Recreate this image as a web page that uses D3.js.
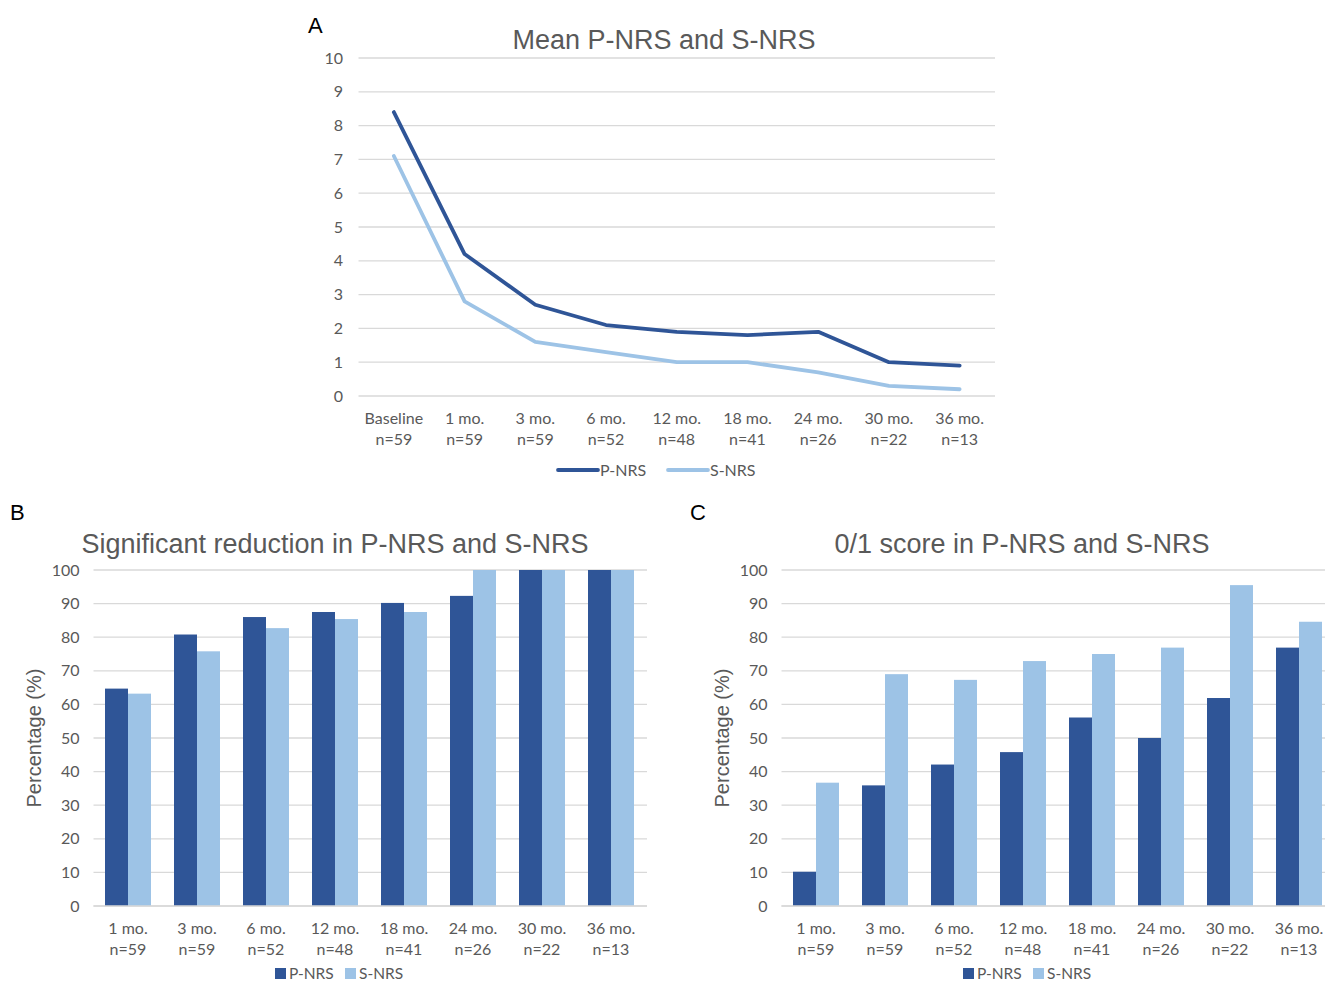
<!DOCTYPE html>
<html>
<head>
<meta charset="utf-8">
<script src="https://cdn.jsdelivr.net/npm/d3@7"></script>
<style>
  body { margin: 0; background: #fff; overflow: hidden; }
  text { font-family: Lato, "Open Sans", sans-serif; }
  .title { font-family: "Liberation Sans", Arial, sans-serif; }
</style>
</head>
<body>
<svg id="chart" width="1325" height="983"></svg>
<script>
// data
const lineCats = ['Baseline|n=59', '1 mo.|n=59', '3 mo.|n=59', '6 mo.|n=52', '12 mo.|n=48', '18 mo.|n=41', '24 mo.|n=26', '30 mo.|n=22', '36 mo.|n=13'];
const meanP = [8.4, 4.2, 2.7, 2.1, 1.9, 1.8, 1.9, 1.0, 0.9];
const meanS = [7.1, 2.8, 1.6, 1.3, 1.0, 1.0, 0.7, 0.3, 0.2];

const barCats = ['1 mo.|n=59', '3 mo.|n=59', '6 mo.|n=52', '12 mo.|n=48', '18 mo.|n=41', '24 mo.|n=26', '30 mo.|n=22', '36 mo.|n=13'];
const reductionP = [64.7, 80.8, 86.0, 87.5, 90.2, 92.3, 100, 100];
const reductionS = [63.2, 75.8, 82.7, 85.4, 87.5, 100, 100, 100];
const scoreP = [10.2, 35.9, 42.1, 45.8, 56.1, 50.0, 61.9, 76.9];
const scoreS = [36.7, 69.0, 67.3, 72.9, 75.0, 76.9, 95.5, 84.6];

const yTicksA = d3.range(0, 11, 1);
const yTicksPct = d3.range(0, 101, 10);

const dark = '#2F5597', light = '#9DC3E6';
const grid = '#D9D9D9', textCol = '#595959';
const tickSize = '16px';

const svg = d3.select('#chart');

// shared helpers
function gridAndYAxis(g, y, ticks, x0, x1, labelX) {
  g.append('g')
    .selectAll('line')
    .data(ticks)
    .enter()
    .append('line')
    .attr('x1', x0)
    .attr('x2', x1)
    .attr('y1', d => y(d))
    .attr('y2', d => y(d))
    .attr('stroke', grid)
    .attr('stroke-width', 1.3);
  g.append('g')
    .selectAll('text')
    .data(ticks)
    .enter()
    .append('text')
    .attr('x', labelX)
    .attr('y', d => y(d))
    .attr('dy', '0.35em')
    .attr('text-anchor', 'end')
    .style('font-size', tickSize)
    .style('fill', textCol)
    .text(d => d);
}

function catLabels(g, x, cats, y0) {
  const t = g.append('g')
    .selectAll('text')
    .data(cats)
    .enter()
    .append('text')
    .attr('text-anchor', 'middle')
    .style('font-size', tickSize)
    .style('fill', textCol);
  t.append('tspan')
    .attr('x', d => x(d) + x.bandwidth() / 2)
    .attr('y', y0)
    .text(d => d.split('|')[0]);
  t.append('tspan')
    .attr('x', d => x(d) + x.bandwidth() / 2)
    .attr('y', y0 + 21)
    .text(d => d.split('|')[1]);
}

function panelLetter(x, y, s) {
  svg.append('text')
    .attr('class', 'title')
    .attr('x', x)
    .attr('y', y)
    .style('font-size', '22px')
    .style('fill', '#000')
    .text(s);
}

function title(x, y, s) {
  svg.append('text')
    .attr('class', 'title')
    .attr('x', x)
    .attr('y', y)
    .attr('text-anchor', 'middle')
    .style('font-size', '27px')
    .style('fill', textCol)
    .text(s);
}

// Panel A: line chart
const xA = d3.scaleBand().domain(lineCats).range([358.5, 995]);
const yA = d3.scaleLinear().domain([0, 10]).range([396, 58]);
const gA = svg.append('g');
panelLetter(308, 33, 'A');
title(664, 49, 'Mean P-NRS and S-NRS');
gridAndYAxis(gA, yA, yTicksA, 358.5, 995, 343);
catLabels(gA, xA, lineCats, 424);

const lineA = d3.line()
  .x((d, i) => xA(lineCats[i]) + xA.bandwidth() / 2)
  .y(d => yA(d));
[[meanS, light], [meanP, dark]].forEach(([vals, col]) => {
  gA.append('path')
    .datum(vals)
    .attr('fill', 'none')
    .attr('stroke', col)
    .attr('stroke-width', 3.8)
    .attr('stroke-linejoin', 'round')
    .attr('stroke-linecap', 'round')
    .attr('d', lineA);
});

// legend A
[['P-NRS', dark, 558], ['S-NRS', light, 668]].forEach(([name, col, lx]) => {
  gA.append('line')
    .attr('x1', lx).attr('x2', lx + 40)
    .attr('y1', 470).attr('y2', 470)
    .attr('stroke', col).attr('stroke-width', 3.8)
    .attr('stroke-linecap', 'round');
  gA.append('text')
    .attr('x', lx + 42).attr('y', 470).attr('dy', '0.35em')
    .style('font-size', tickSize).style('fill', textCol)
    .text(name);
});

// Bar panels
function barPanel(opts) {
  const { x0, x1, letterX, titleX, titleText, pVals, sVals, ylabX, legX } = opts;
  const g = svg.append('g');
  const x = d3.scaleBand().domain(barCats).range([x0, x0 + 69 * barCats.length]);
  const xs = d3.scaleBand().domain(['P', 'S']).range([0, x.bandwidth()]).paddingInner(0).paddingOuter(0.5);
  const y = d3.scaleLinear().domain([0, 100]).range([906, 570]);

  panelLetter(letterX, 520, opts.letter);
  title(titleX, 553, titleText);
  gridAndYAxis(g, y, yTicksPct, x0, x1, x0 - 14);
  catLabels(g, x, barCats, 934);

  const rows = barCats.map((c, i) => ({ c, P: pVals[i], S: sVals[i] }));
  const grp = g.append('g')
    .selectAll('g')
    .data(rows)
    .enter()
    .append('g')
    .attr('transform', d => `translate(${x(d.c)},0)`);
  grp.selectAll('rect')
    .data(d => [['P', d.P, dark], ['S', d.S, light]])
    .enter()
    .append('rect')
    .attr('x', d => xs(d[0]))
    .attr('width', xs.bandwidth())
    .attr('y', d => y(d[1]))
    .attr('height', d => y(0) - y(d[1]))
    .attr('fill', d => d[2]);

  // redraw baseline over bars
  g.append('line')
    .attr('x1', x0).attr('x2', x1)
    .attr('y1', y(0)).attr('y2', y(0))
    .attr('stroke', grid).attr('stroke-width', 1.3);

  g.append('text')
    .attr('class', 'title')
    .attr('transform', `translate(${ylabX},${(y(0) + y(100)) / 2}) rotate(-90)`)
    .attr('dy', '0.35em')
    .attr('text-anchor', 'middle')
    .style('font-size', '20px')
    .style('fill', textCol)
    .text('Percentage (%)');

  [['P-NRS', dark, legX], ['S-NRS', light, legX + 70]].forEach(([name, col, lx]) => {
    g.append('rect')
      .attr('x', lx).attr('y', 968)
      .attr('width', 11).attr('height', 11)
      .attr('fill', col);
    g.append('text')
      .attr('x', lx + 14).attr('y', 973.5).attr('dy', '0.35em')
      .style('font-size', '15.5px').style('fill', textCol)
      .text(name);
  });
}

barPanel({
  letter: 'B', letterX: 10, x0: 93.5, x1: 647,
  titleX: 335, titleText: 'Significant reduction in P-NRS and S-NRS',
  pVals: reductionP, sVals: reductionS, ylabX: 34, legX: 275
});

barPanel({
  letter: 'C', letterX: 690, x0: 781.5, x1: 1325,
  titleX: 1022, titleText: '0/1 score in P-NRS and S-NRS',
  pVals: scoreP, sVals: scoreS, ylabX: 722, legX: 963
});
</script>
</body>
</html>
